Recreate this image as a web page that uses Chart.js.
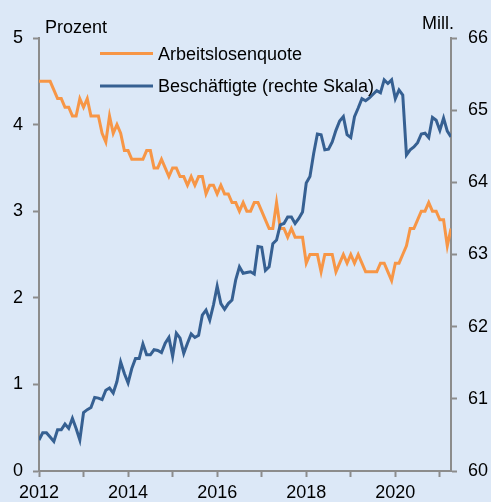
<!DOCTYPE html>
<html>
<head>
<meta charset="utf-8">
<script src="https://cdn.jsdelivr.net/npm/chart.js@4.4.1/dist/chart.umd.min.js"></script>
<style>
  html, body { margin: 0; padding: 0; background: #dce8f7; }
  #wrap { width: 491px; height: 502px; }
</style>
</head>
<body>
<div id="wrap"><canvas id="c" width="491" height="502"></canvas></div>
<script>
// ---- data (monthly, Jan 2012 onwards) ----
const startYear = 2012;
const unemploymentLabel = "Arbeitslosenquote";
const employmentLabel = "Beschäftigte (rechte Skala)";
const leftUnit = "Prozent";
const rightUnit = "Mill.";

const unemployment = [
  4.5,4.5,4.5,4.5,4.4,4.3,4.3,4.2,4.2,4.1,4.1,4.3,
  4.2,4.3,4.1,4.1,4.1,3.9,3.8,4.1,3.9,4.0,3.9,3.7,
  3.7,3.6,3.6,3.6,3.6,3.7,3.7,3.5,3.5,3.6,3.5,3.4,
  3.5,3.5,3.4,3.4,3.3,3.4,3.3,3.4,3.4,3.2,3.3,3.3,
  3.2,3.3,3.2,3.2,3.1,3.1,3.0,3.1,3.0,3.0,3.1,3.1,
  3.0,2.9,2.8,2.8,3.1,2.8,2.8,2.7,2.8,2.7,2.7,2.7,
  2.4,2.5,2.5,2.5,2.3,2.5,2.5,2.5,2.3,2.4,2.5,2.4,
  2.5,2.4,2.5,2.4,2.3,2.3,2.3,2.3,2.4,2.4,2.3,2.2,
  2.4,2.4,2.5,2.6,2.8,2.8,2.9,3.0,3.0,3.1,3.0,3.0,
  2.9,2.9,2.6,2.8
];

const employment = [
  60.43,60.53,60.53,60.47,60.41,60.57,60.57,60.65,60.59,60.73,60.59,60.43,
  60.81,60.85,60.88,61.02,61.01,60.99,61.12,61.15,61.08,61.24,61.51,61.35,
  61.22,61.42,61.56,61.56,61.76,61.61,61.61,61.68,61.67,61.64,61.77,61.85,
  61.59,61.91,61.84,61.63,61.77,61.90,61.85,61.88,62.16,62.23,62.09,62.30,
  62.56,62.32,62.24,62.32,62.37,62.65,62.83,62.74,62.75,62.76,62.73,63.11,
  63.10,62.78,62.83,63.15,63.20,63.41,63.43,63.52,63.52,63.43,63.50,63.59,
  63.99,64.08,64.40,64.67,64.66,64.45,64.46,64.56,64.72,64.85,64.91,64.66,
  64.62,64.91,65.03,65.16,65.13,65.17,65.22,65.27,65.24,65.42,65.37,65.42,
  65.16,65.28,65.21,64.38,64.45,64.49,64.55,64.67,64.68,64.62,64.90,64.86,
  64.72,64.89,64.71,64.63
];

const yearTicks = [2012,2013,2014,2015,2016,2017,2018,2019,2020,2021];
const labelledYears = ["2012","2014","2016","2018","2020"];
const leftTicks = [0,1,2,3,4,5];
const rightTicks = [60,61,62,63,64,65,66];

// ---- styles ----
const BG = "#dce8f7";
const ORANGE = "#f79646";
const BLUE = "#366092";
const AXIS = "#8c8c8c";
const FONT = "'Liberation Sans', Arial, Helvetica, sans-serif";

const toPoints = arr => arr.map((v, i) => ({ x: i, y: v }));
const lastIndex = Math.max(unemployment.length, employment.length) - 1;

Chart.defaults.font.family = FONT;
Chart.defaults.font.size = 18;
Chart.defaults.color = "#000";

const bgPlugin = {
  id: "bg",
  beforeDraw(chart) {
    const ctx = chart.ctx;
    ctx.save();
    ctx.fillStyle = BG;
    ctx.fillRect(0, 0, chart.width, chart.height);
    ctx.restore();
  }
};

const annotPlugin = {
  id: "annot",
  afterDraw(chart) {
    const ctx = chart.ctx;
    ctx.save();
    ctx.font = "18px " + FONT;
    ctx.fillStyle = "#000";
    ctx.textBaseline = "alphabetic";
    ctx.textAlign = "left";
    ctx.fillText(leftUnit, 45, 33);
    ctx.fillText(rightUnit, 422, 29);
    const items = [
      { label: unemploymentLabel, color: ORANGE, y: 53.5, base: 60 },
      { label: employmentLabel, color: BLUE, y: 86, base: 92 }
    ];
    items.forEach(it => {
      ctx.strokeStyle = it.color;
      ctx.lineWidth = 3;
      ctx.beginPath();
      ctx.moveTo(100, it.y);
      ctx.lineTo(153, it.y);
      ctx.stroke();
      ctx.fillText(it.label, 158, it.base);
    });
    ctx.restore();
  }
};

new Chart(document.getElementById("c"), {
  type: "line",
  data: {
    datasets: [
      {
        label: unemploymentLabel,
        data: toPoints(unemployment),
        yAxisID: "y",
        borderColor: ORANGE,
        borderWidth: 3,
        pointRadius: 0,
        tension: 0,
        order: 1
      },
      {
        label: employmentLabel,
        data: toPoints(employment),
        yAxisID: "y1",
        borderColor: BLUE,
        borderWidth: 3,
        pointRadius: 0,
        tension: 0,
        order: 0
      }
    ]
  },
  options: {
    responsive: false,
    animation: false,
    devicePixelRatio: 1,
    layout: { padding: { top: 38, left: 0, right: 0, bottom: 0 } },
    plugins: { legend: { display: false }, tooltip: { enabled: false } },
    scales: {
      x: {
        type: "linear",
        min: 0,
        max: lastIndex,
        afterBuildTicks(s) {
          s.ticks = yearTicks.map(y => ({ value: (y - startYear) * 12 }));
        },
        afterFit(s) { s.height = 31; },
        ticks: {
          autoSkip: false,
          maxRotation: 0,
          padding: 5,
          callback(v) {
            const yr = String(startYear + Math.round(v / 12));
            return labelledYears.includes(yr) ? yr : "";
          }
        },
        grid: { drawOnChartArea: false, drawTicks: true, tickLength: 6, tickColor: AXIS, tickWidth: 2 },
        border: { display: true, color: AXIS, width: 2 }
      },
      y: {
        position: "left",
        min: 0,
        max: 5,
        afterBuildTicks(s) { s.ticks = leftTicks.map(v => ({ value: v })); },
        afterFit(s) { s.width = 39; },
        ticks: { padding: 10 },
        grid: { drawOnChartArea: false, drawTicks: true, tickLength: 6, tickColor: AXIS, tickWidth: 2 },
        border: { display: true, color: AXIS, width: 2 }
      },
      y1: {
        position: "right",
        min: 60,
        max: 66,
        afterBuildTicks(s) { s.ticks = rightTicks.map(v => ({ value: v })); },
        afterFit(s) { s.width = 40; },
        ticks: { padding: 11 },
        grid: { drawOnChartArea: false, drawTicks: true, tickLength: 6, tickColor: AXIS, tickWidth: 2 },
        border: { display: true, color: AXIS, width: 2 }
      }
    }
  },
  plugins: [bgPlugin, annotPlugin]
});
</script>
</body>
</html>
